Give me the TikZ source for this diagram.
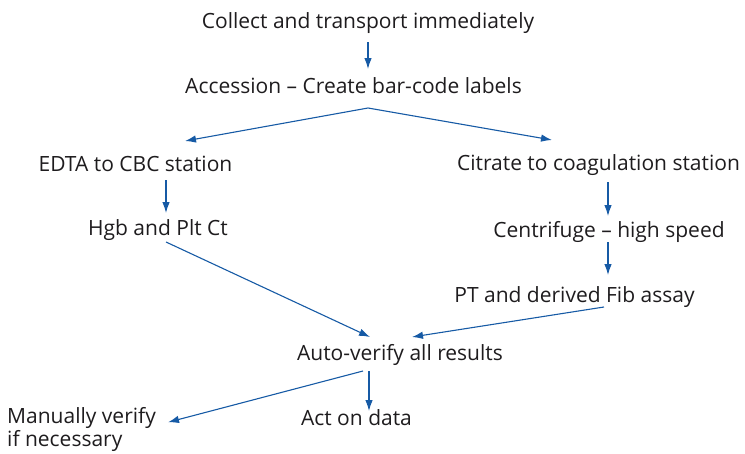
\documentclass[tikz,border=0pt]{standalone}
\usepackage{fontspec}
\setmainfont{Open Sans}
\usetikzlibrary{arrows.meta, calc}
\definecolor{flowblue}{RGB}{22, 90, 165}
\definecolor{inkdark}{RGB}{30, 28, 30}
\tikzset{
    stage/.style ={inner sep=0pt, anchor=base, text=inkdark,
                   font=\fontsize{21}{23}\selectfont},
    ar/.style    ={-{Latex[length=11pt, width=7.5pt]}, line width=1.1pt, draw=flowblue},
    arboth/.style={{Latex[length=11pt, width=7.5pt]}-{Latex[length=11pt, width=7.5pt]},
                   line width=1.1pt, draw=flowblue}
}

\begin{document}
\begin{tikzpicture}[x=1pt, y=-1pt]
  \useasboundingbox (0,0) rectangle (745,453);

  % ---- intake
  \node[stage] (collect)   at (368, 28)   {Collect and transport immediately};
  \node[stage] (accession) at (353.5, 93) {Accession -- Create bar-code labels};

  % ---- the two tubes
  \node[stage] (edta)       at (135.5, 171) {EDTA to CBC station};
  \node[stage] (citrate)    at (598.5, 170) {Citrate to coagulation station};
  \node[stage] (hgb)        at (158, 235)   {Hgb and Plt Ct};
  \node[stage] (centrifuge) at (609, 237)   {Centrifuge -- high speed};
  \node[stage] (ptfib)      at (574.5, 302) {PT and derived Fib assay};

  % ---- verification
  \node[stage] (autover) at (400, 360)   {Auto-verify all results};
  \node[stage] (act)     at (356.5, 425) {Act on data};
  \node[stage, anchor=north west, align=left] (manual) at (7, 407)
       {Manually verify\\if necessary};

  % ---- arrows
  \draw[ar] ($(collect.base)+(0,14)$) -- ($(collect.base |- accession.base)+(0,-24)$);
  \coordinate (split) at ($(collect.base |- accession.base)+(0,15)$);
  \draw[arboth] ($(edta.base)+(49.5,-30)$) -- (split) -- ($(citrate.base)+(-46.5,-30)$);

  \draw[ar] ($(hgb.base |- edta.base)+(8,9)$) -- ($(hgb.base)+(8,-22)$);
  \draw[ar] ($(centrifuge.base |- citrate.base)+(-1,12)$) -- ($(centrifuge.base)+(-1,-21)$);
  \draw[ar] ($(centrifuge.base)+(-1,5)$) -- ($(centrifuge.base |- ptfib.base)+(-1,-27)$);

  \draw[ar] ($(hgb.base)+(8,7)$) -- ($(autover.base)+(-30,-23)$);
  \draw[ar] ($(ptfib.base)+(29.5,5)$) -- ($(autover.base)+(12,-23)$);

  \draw[ar] ($(autover.base)+(-31,11)$) -- ($(act.base)+(12.5,-14)$);
  \draw[ar] ($(autover.base)+(-37,11)$) -- ($(manual.east)+(12,-7)$);
\end{tikzpicture}
\end{document}
